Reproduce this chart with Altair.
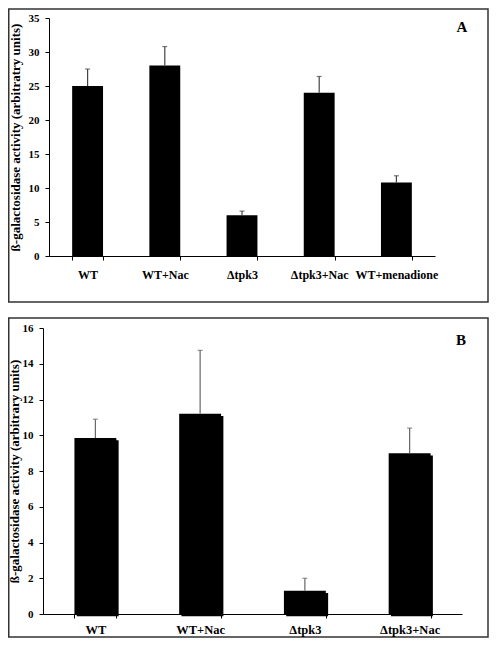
import altair as alt
import pandas as pd

FONT = "Liberation Serif"

# Panel A data
cats_a = ["WT", "WT+Nac", "Δtpk3", "Δtpk3+Nac", "WT+menadione"]
vals_a = [25.0, 28.0, 6.0, 24.0, 10.8]
upper_a = [27.5, 30.8, 6.6, 26.4, 11.8]
ticks_a = [0, 5, 10, 15, 20, 25, 30, 35]
title_a = "ß-galactosidase activity (arbitratry units)"

# Panel B data
cats_b = ["WT", "WT+Nac", "Δtpk3", "Δtpk3+Nac"]
vals_b = [9.85, 11.2, 1.3, 9.0]
upper_b = [10.9, 14.75, 2.0, 10.4]
ticks_b = [0, 2, 4, 6, 8, 10, 12, 14, 16]
title_b = "ß-galactosidase activity (arbitrary units)"


def panel(cats, vals, upper, ymax, yticks, ytitle, letter, w, h,
          x_range, y_offset, box_top, box_bottom, letter_xy, title_x,
          xlab_size, ylab_size, title_size, xlab_pad, shadow, err_color):
    df = pd.DataFrame({"cat": cats, "val": vals, "hi": upper})
    sc = dict(domain=cats, paddingInner=0.6, paddingOuter=0.3)
    if x_range is not None:
        sc["range"] = x_range
    xscale = alt.Scale(**sc)
    yscale = alt.Scale(domain=[0, ymax], nice=False)
    xaxis = alt.Axis(title=None, labelAngle=0, labelFont=FONT,
                     labelFontWeight="bold", labelFontSize=xlab_size,
                     labelColor="black", labelPadding=xlab_pad,
                     labelOverlap=False,
                     tickBand="extent", tickSize=4, tickColor="black",
                     domainColor="black", domainWidth=1, zindex=2)
    yaxis = alt.Axis(values=yticks, title=ytitle, grid=False,
                     titleFont=FONT, titleFontWeight="bold",
                     titleFontSize=title_size, titleColor="black",
                     titleX=title_x, labelOverlap=False,
                     labelFont=FONT, labelFontWeight="bold",
                     labelFontSize=ylab_size, labelColor="black",
                     labelPadding=6, tickSize=4, tickColor="black",
                     domainColor="black", domainWidth=1,
                     offset=y_offset, zindex=2)
    x = alt.X("cat:N", sort=cats, scale=xscale, axis=xaxis)
    yv = alt.Y("val:Q", scale=yscale, axis=yaxis)
    yh = alt.Y("hi:Q", scale=yscale, axis=yaxis)
    base = alt.Chart(df)
    layers = []
    box = alt.Chart(pd.DataFrame({"k": [0]})).mark_rect(
        fill="transparent", stroke="#333333", strokeWidth=1.5
    ).encode(x=alt.value(-40.25), x2=alt.value(439),
             y=alt.value(box_top), y2=alt.value(h + box_bottom))
    layers.append(box)
    if shadow:
        layers.append(base.mark_bar(color="black", xOffset=2.3, yOffset=2.3)
                      .encode(x=x, y=yv))
    layers.append(base.mark_bar(color="black").encode(x=x, y=yv))
    layers.append(base.mark_rule(color=err_color, strokeWidth=1.2)
                  .encode(x=x, y=yv, y2="hi:Q"))
    layers.append(base.mark_tick(color=err_color, orient="horizontal",
                                 size=5, thickness=1.2)
                  .encode(x=x, y=yh))
    layers.append(alt.Chart(pd.DataFrame({"k": [0]})).mark_text(
        text=letter, font=FONT, fontWeight="bold", fontSize=15, color="black"
    ).encode(x=alt.value(letter_xy[0]), y=alt.value(letter_xy[1])))
    return alt.layer(*layers).properties(width=w, height=h)


pa = panel(cats_a, vals_a, upper_a, 35, ticks_a, title_a, "A", 386, 238,
           None, 0, -9, 46, (413, 9), -27, 12, 11, 13, 9, False, "#444444")
pb = panel(cats_b, vals_b, upper_b, 16, ticks_b, title_b, "B", 413, 286,
           [-6, 413], 6, -10, 23, (412, 12), -22, 12.5, 11, 13, 5, True,
           "#666666")

chart = alt.ConcatChart(concat=[pa, pb], columns=1, spacing=14).properties(
    padding=0, background="white"
).configure_view(stroke=None).configure_axis(labelOverlap=False)

chart.save("out.html", embed_options={"renderer": "svg", "actions": False})
